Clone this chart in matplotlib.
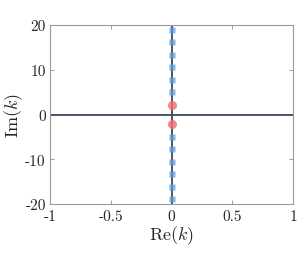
import matplotlib
matplotlib.use("Agg")
import matplotlib.pyplot as plt
import numpy as np

plt.rcParams['mathtext.fontset'] = 'cm'
plt.rcParams['font.family'] = 'serif'
plt.rcParams['font.serif'] = ['cmr10', 'DejaVu Serif']
plt.rcParams['axes.unicode_minus'] = False

# data
blue_re = [0, 0, 0, 0, 0, 0, 0, 0, 0, 0, 0, 0]
blue_im = [4.96, 7.75, 10.55, 13.35, 16.15, 18.95,
           -4.96, -7.75, -10.55, -13.35, -16.15, -18.95]
red_re = [0, 0]
red_im = [2.2, -2.2]
xticks = [-1, -0.5, 0, 0.5, 1]
xticklabels = ['-1', '-0.5', '0', '0.5', '1']
yticks = [-20, -10, 0, 10, 20]
yticklabels = ['-20', '-10', '0', '10', '20']

fig = plt.figure(figsize=(3.04, 2.55), dpi=100)
ax = fig.add_axes([0.1645, 0.196, 0.7995, 0.702])

ax.axhline(0, color='#3d4a5c', lw=1.3, zorder=2)
ax.axvline(0, color='#3d4a5c', lw=1.3, zorder=2)
ax.plot(blue_re, blue_im, 's', ms=4.5, color='#5b9bd5', alpha=0.75, mec='none', zorder=3)
ax.plot(red_re, red_im, 'o', ms=6.5, color='#f26b6b', alpha=0.8, mec='none', zorder=3)

ax.set_xlim(-1, 1)
ax.set_ylim(-20, 20)
ax.set_xticks(xticks)
ax.set_xticklabels(xticklabels)
ax.set_yticks(yticks)
ax.set_yticklabels(yticklabels)
for lab in ax.get_xticklabels() + ax.get_yticklabels():
    lab.set_fontfamily('cmr10')
    lab.set_fontsize(11)
    lab.set_color('#262626')

ax.tick_params(direction='in', top=True, right=True, length=3, width=0.6,
               color='#8a8a8a')
ax.tick_params(axis='x', pad=4)
ax.tick_params(axis='y', pad=3)
for s in ax.spines.values():
    s.set_color('#9a9a9a')
    s.set_linewidth(0.8)

ax.set_xlabel(r'$\mathrm{Re}(k)$', fontsize=13, labelpad=0, color='#262626')
ax.set_ylabel(r'$\mathrm{Im}(k)$', fontsize=13, labelpad=0, color='#262626')

fig.savefig('out.png', dpi=100)
